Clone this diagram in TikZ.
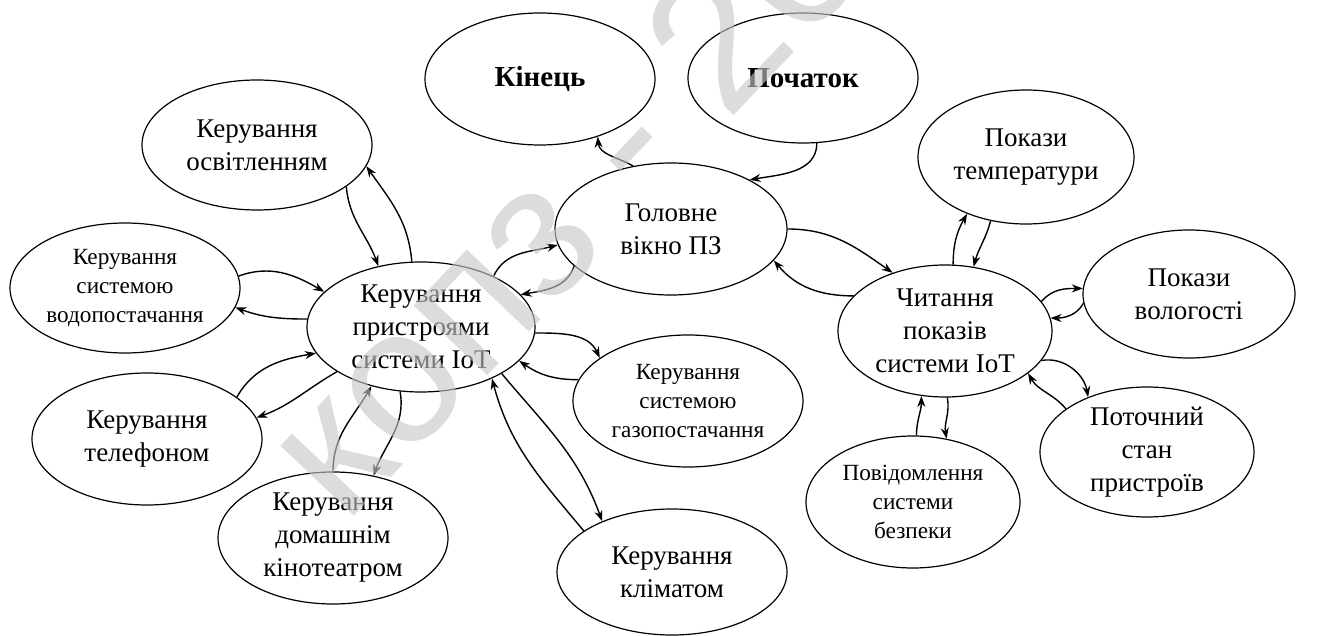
\documentclass[tikz,border=0pt]{standalone}
\usepackage{fontspec}
\setmainfont{Liberation Serif}
\newfontfamily\wmfamily{Liberation Sans}
\usetikzlibrary{arrows.meta,shapes.geometric}

\begin{document}
\begin{tikzpicture}[x=0.5pt,y=0.5pt,
  state/.style={ellipse,draw,line width=0.6pt,inner sep=0pt,align=center,
    font=\fontsize{13.5}{16.5}\selectfont},
  smalltext/.style={font=\fontsize{11.6}{14.5}\selectfont},
  bigtext/.style={font=\fontsize{14.5}{17}\selectfont\bfseries},
  conn/.style={draw,line width=0.7pt,-{Stealth[length=5.5pt,width=4pt]}},
]
\useasboundingbox (0,0) rectangle (1340,-636);
\fill[white] (0,0) rectangle (1340,-636);

% states
\node[state,bigtext,minimum width=115pt,minimum height=66pt] (kin) at (540,-79) {Кінець};
\node[state,bigtext,minimum width=115pt,minimum height=65pt] (poch) at (803,-78) {Початок};
\node[state,minimum width=116pt,minimum height=66pt] (main) at (671,-229) {Головне\\вікно ПЗ};
\node[state,minimum width=114pt,minimum height=65pt] (iot) at (421,-327) {Керування\\пристроями\\системи IoT};
\node[state,minimum width=115pt,minimum height=65pt] (light) at (257,-145) {Керування\\освітленням};
\node[state,smalltext,minimum width=115pt,minimum height=65pt] (water) at (125,-288) {Керування\\системою\\водопостачання};
\node[state,minimum width=115pt,minimum height=66pt] (phone) at (147,-439) {Керування\\телефоном};
\node[state,minimum width=115pt,minimum height=66pt] (cinema) at (333,-538) {Керування\\домашнім\\кінотеатром};
\node[state,smalltext,minimum width=115pt,minimum height=66pt] (gas) at (688,-401) {Керування\\системою\\газопостачання};
\node[state,minimum width=115pt,minimum height=63pt] (climate) at (672,-572) {Керування\\кліматом};
\node[state,minimum width=107pt,minimum height=66pt] (read) at (945,-331) {Читання\\показів\\системи IoT};
\node[state,minimum width=108pt,minimum height=67pt] (temp) at (1026,-157) {Покази\\температури};
\node[state,minimum width=106pt,minimum height=64pt] (hum) at (1189,-294) {Покази\\вологості};
\node[state,smalltext,minimum width=107pt,minimum height=66pt] (alarm) at (913,-502) {Повідомлення\\системи\\безпеки};
\node[state,minimum width=107pt,minimum height=65pt] (devs) at (1147,-452) {Поточний\\стан\\пристроїв};

% transitions around the main window
\draw[conn] (main.121) to[out=150,in=-85] (kin.-45);
\draw[conn] (poch.-78) to[out=-90,in=10] (main.32);
\draw[conn] (iot.35) to[out=65,in=195] (main.188);
\draw[conn] (main.201) to[out=-110,in=10] (iot.18);
\draw[conn] (main.0) to[out=0,in=145] (read.132);
\draw[conn] (read.159) to[out=180,in=-50] (main.-17);

% device control
\draw[conn] (light.-25) to[out=-85,in=110] (iot.125);
\draw[conn] (iot.98) to[out=95,in=-55] (light.-11);
\draw[conn] (water.6) to[out=20,in=150] (iot.160);
\draw[conn] (iot.176) to[out=180,in=-20] (water.-10);
\draw[conn] (phone.25) to[out=60,in=190] (iot.194);
\draw[conn] (iot.208) to[out=210,in=20] (phone.11);
\draw[conn] (cinema.90) to[out=90,in=240] (iot.230);
\draw[conn] (iot.252) to[out=-80,in=70] (cinema.57);
\draw[conn] (iot.-3) to[out=0,in=115] (gas.154);
\draw[conn] (gas.169) to[out=180,in=-35] (iot.-19);
\draw[conn] (iot.-30) to[out=-50,in=110] (climate.144);
\draw[conn] (climate.155) to[out=130,in=-75] (iot.-36);

% readings
\draw[conn] (read.83) to[out=90,in=240] (temp.224);
\draw[conn] (temp.241) to[out=-105,in=75] (read.66);
\draw[conn] (read.17) to[out=50,in=180] (hum.177);
\draw[conn] (hum.185) to[out=-120,in=0] (read.7);
\draw[conn] (alarm.87) to[out=90,in=-90] (read.250);
\draw[conn] (read.-88) to[out=-80,in=100] (alarm.62);
\draw[conn] (read.-17) to[out=10,in=100] (devs.137);
\draw[conn] (devs.152) to[out=130,in=-60] (read.-27);

% watermark
\node[rotate=46.5,anchor=base west,inner sep=0pt,text=black!22,opacity=0.62,
  font=\fontsize{96}{96}\selectfont\wmfamily] (wm) at (345,-526) {копз - 2024};
\end{tikzpicture}
\end{document}
